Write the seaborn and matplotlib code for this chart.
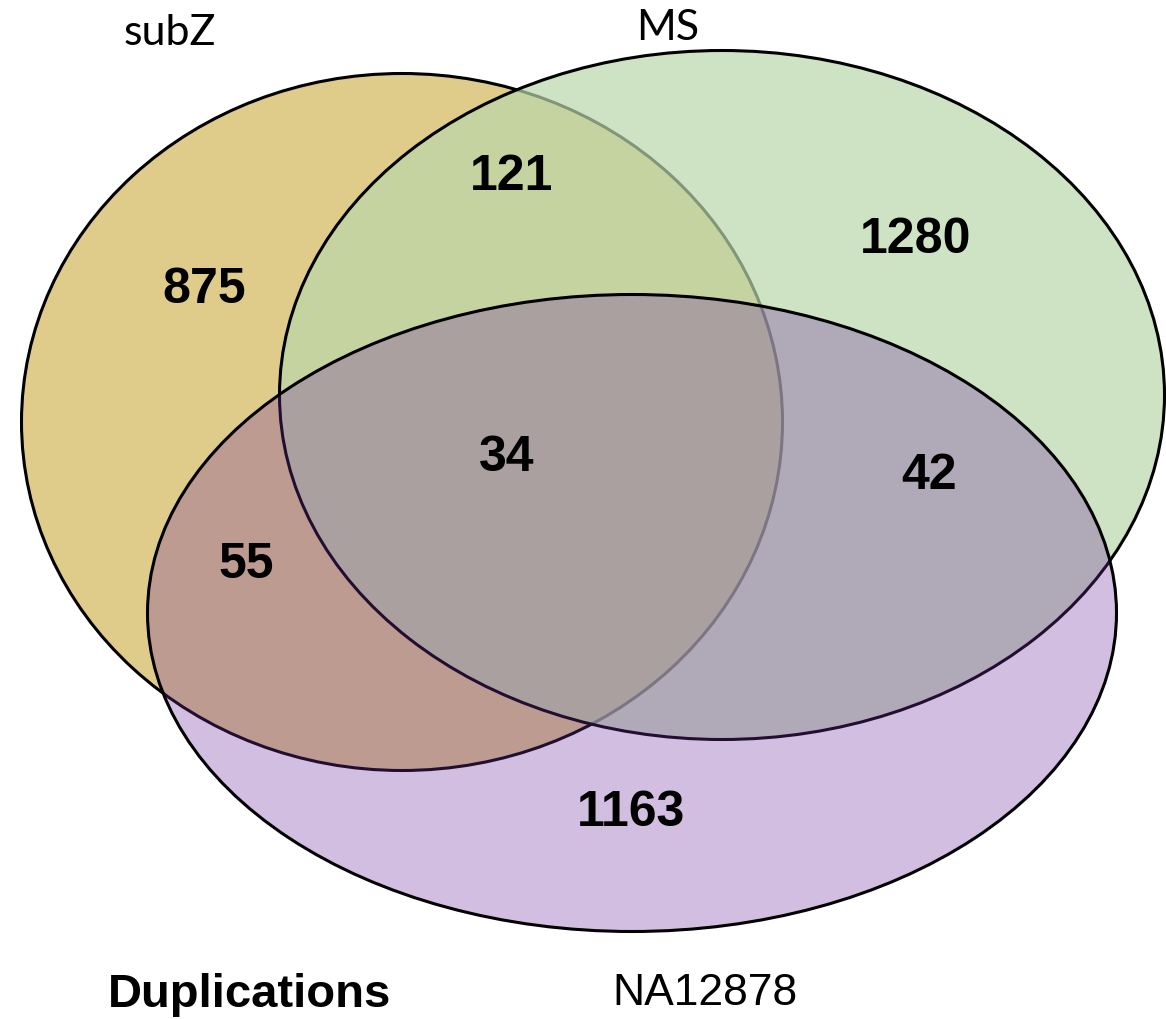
import matplotlib
matplotlib.use("Agg")
import matplotlib.pyplot as plt
from matplotlib.patches import Ellipse
import seaborn as sns

# set names and region counts
set_names = ["subZ", "MS", "NA12878"]
region_labels = ["875", "121", "1280", "34", "55", "42", "1163"]
chart_title = "Duplications"

# layout (pixel space of the 1166x1020 canvas)
W, H = 1166, 1020
ellipse_geom = [(402, 423, 761, 697), (722, 396, 885, 689), (632, 614, 969, 637)]
fill_colors = [(224/255, 204/255, 138/255, 1.0),
               (186/255, 215/255, 171/255, 0.70),
               (112/255, 48/255, 160/255, 0.31)]
name_pos = [(170, 33), (668, 28), (705, 994)]
count_pos = [(204, 290), (512, 177), (916, 240), (507, 458), (246, 565), (929, 476), (631, 813)]

sns.set_theme(style="white")
plt.rcParams['font.family'] = ['Liberation Sans', 'DejaVu Sans']
plt.rcParams['text.color'] = 'black'

fig = plt.figure(figsize=(W / 100, H / 100), dpi=100)
ax = fig.add_axes([0, 0, 1, 1])
ax.set_xlim(0, W)
ax.set_ylim(H, 0)
ax.axis('off')

for i, (cx, cy, w, h) in enumerate(ellipse_geom):
    ax.add_patch(Ellipse((cx, cy), w, h, facecolor=fill_colors[i],
                         edgecolor='black', linewidth=2.2, zorder=i + 1))

for name, (x, y) in zip(set_names[:2], name_pos[:2]):
    ax.text(x, y, name, ha='center', va='center', fontsize=31, color='black',
            family=['Lato', 'DejaVu Sans'], zorder=10)
ax.text(*name_pos[2], set_names[2], ha='center', va='center', fontsize=32,
        color='black', zorder=10)
ax.text(250, 995, chart_title, ha='center', va='center', fontsize=34,
        fontweight='bold', color='black', zorder=10)

for lab, (x, y) in zip(region_labels, count_pos):
    ax.text(x, y, lab, ha='center', va='center', fontsize=36,
            fontweight='bold', color='black', zorder=10)

fig.savefig("out.png", dpi=100)
